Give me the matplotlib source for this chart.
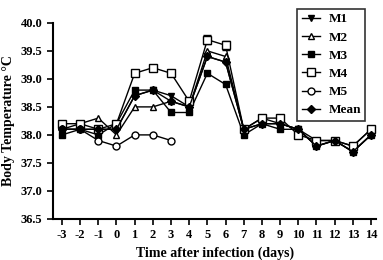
import numpy as np
import matplotlib.pyplot as plt

days = [-3, -2, -1, 0, 1, 2, 3, 4, 5, 6, 7, 8, 9, 10, 11, 12, 13, 14]

m1 = [38.1, 38.1, 38.1, 38.1, 38.7, 38.8, 38.7, 38.5, 39.4, 39.3, 38.1, 38.2, 38.2, 38.1, 37.8, 37.9, 37.7, 38.0]
m2 = [38.1, 38.2, 38.3, 38.0, 38.5, 38.5, 38.6, 38.5, 39.5, 39.4, 38.1, 38.3, 38.2, 38.1, 37.9, 37.9, 37.8, 38.1]
m3 = [38.0, 38.1, 38.0, 38.2, 38.8, 38.8, 38.4, 38.4, 39.1, 38.9, 38.0, 38.2, 38.1, 38.1, 37.8, 37.9, 37.7, 38.0]
m4 = [38.2, 38.2, 38.1, 38.2, 39.1, 39.2, 39.1, 38.6, 39.7, 39.6, 38.1, 38.3, 38.3, 38.0, 37.9, 37.9, 37.8, 38.1]
m4_err = [0, 0, 0, 0, 0, 0, 0, 0, 0.08, 0.08, 0, 0, 0, 0, 0, 0, 0, 0]
m5_days = [-3, -2, -1, 0, 1, 2, 3]
m5 = [38.1, 38.1, 37.9, 37.8, 38.0, 38.0, 37.9]
mean = [38.1, 38.1, 38.1, 38.1, 38.7, 38.8, 38.6, 38.5, 39.4, 39.3, 38.1, 38.2, 38.2, 38.1, 37.8, 37.9, 37.7, 38.0]

plt.rcParams['font.family'] = ['Liberation Serif', 'DejaVu Serif']
plt.rcParams['font.weight'] = 'bold'
plt.rcParams['axes.unicode_minus'] = False

fig = plt.figure(figsize=(3.83, 2.60), dpi=100)
ax = fig.add_axes([0.138, 0.158, 0.845, 0.754])

ms = 5
h1, = ax.plot(days, m1, '-v', color='black', mfc='black', ms=ms, lw=1, label='M1')
h2, = ax.plot(days, m2, '-^', color='black', mfc='white', ms=ms, lw=1, label='M2')
h3, = ax.plot(days, m3, '-s', color='black', mfc='black', ms=ms, lw=1, label='M3')
ax.errorbar(days, m4, yerr=m4_err, fmt='none', ecolor='black', capsize=3, elinewidth=0.8)
h4, = ax.plot(days, m4, '-s', color='black', mfc='white', ms=ms + 0.5, lw=1, label='M4')
h5, = ax.plot(m5_days, m5, '-o', color='black', mfc='white', ms=ms, lw=1, label='M5')
h6, = ax.plot(days, mean, '-D', color='black', mfc='black', ms=ms - 0.5, lw=1, label='Mean')

ax.set_xlim(-3.5, 14.3)
ax.set_ylim(36.5, 40.0)
ax.set_xticks(days)
ax.set_yticks(np.arange(36.5, 40.01, 0.5))
ax.set_yticklabels(['%.1f' % v for v in np.arange(36.5, 40.01, 0.5)])
ax.tick_params(direction='out', length=4, width=1.2, labelsize=9)
for s in ['top', 'right']:
    ax.spines[s].set_visible(False)
for s in ['left', 'bottom']:
    ax.spines[s].set_linewidth(1.5)

ax.set_xlabel('Time after infection (days)', fontsize=10, fontweight='bold', labelpad=4)
ax.set_ylabel('Body Temperature \u00b0C', fontsize=10, fontweight='bold')

leg = ax.legend(handles=[h1, h2, h3, h4, h5, h6],
                loc='upper right', bbox_to_anchor=(372 / 383, 1 - 2 / 260),
                bbox_transform=fig.transFigure, fontsize=9.5, frameon=True,
                fancybox=False, edgecolor='black', handlelength=1.4,
                handletextpad=0.6, labelspacing=0.45, borderpad=0.35)
leg.get_frame().set_linewidth(1.2)

fig.savefig('out.png', dpi=100)
